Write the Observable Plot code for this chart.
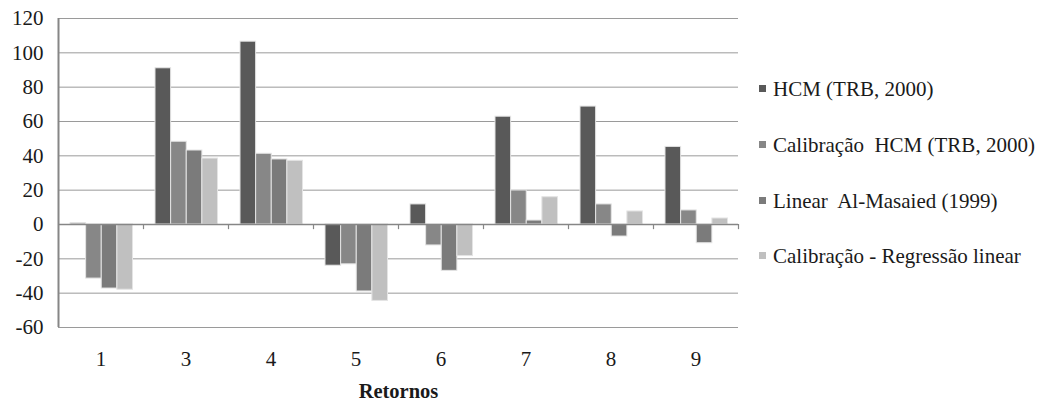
<!DOCTYPE html>
<html>
<head>
<meta charset="utf-8">
<script src="https://cdn.jsdelivr.net/npm/d3@7"></script>
<script src="https://cdn.jsdelivr.net/npm/@observablehq/plot@0.6"></script>
<style>
  body { margin: 0; background: #fff; }
  #wrap { position: relative; width: 1042px; height: 403px; }
  #wrap svg text { font-family: 'Liberation Serif', serif; }
  .item { position: absolute; white-space: pre; font-family: 'Liberation Serif', serif; font-size: 21px; line-height: 1; color: #1a1a1a; }
  .sw { position: absolute; width: 7px; height: 7px; }
</style>
</head>
<body>
<div id="wrap"><div id="legend"></div></div>
<script>
// Returns (categories) and the four series of differences
const retornos = ["1", "3", "4", "5", "6", "7", "8", "9"];
const seriesNames = [
  "HCM (TRB, 2000)",
  "Calibração  HCM (TRB, 2000)",
  "Linear  Al-Masaied (1999)",
  "Calibração - Regressão linear"
];
const hcm       = [0.7, 91.0, 106.5, -24.0, 11.7, 62.8, 68.7, 45.2];
const calHcm    = [-31.5, 48.2, 41.2, -23.2, -12.2, 19.8, 11.7, 8.2];
const linearAM  = [-37.3, 43.1, 37.9, -39.0, -27.0, 2.3, -7.0, -10.9];
const calRegLin = [-38.0, 38.4, 37.1, -44.5, -18.4, 15.9, 7.6, 3.5];
const yTicks = [-60, -40, -20, 0, 20, 40, 60, 80, 100, 120];
const colors = ["#595959", "#878787", "#7b7b7b", "#c0c0c0"];

const seriesValues = [hcm, calHcm, linearAM, calRegLin];
const rows = seriesValues.map((vals, j) =>
  retornos.map((r, i) => ({retorno: r, series: seriesNames[j], value: vals[i]}))
);

const width = 1042, height = 403;
const marginLeft = 58, marginRight = 304, marginTop = 18, marginBottom = 76;
const band = (width - marginLeft - marginRight) / retornos.length;
const groupPad = 12, slot = (band - 2 * groupPad + 1.5) / 4;

const barMarks = rows.map((data, j) =>
  Plot.barY(data, {
    x: "retorno",
    y: "value",
    fill: colors[j],
    stroke: "#e4e4e4",
    strokeWidth: 1,
    insetLeft: groupPad + j * slot,
    insetRight: band - groupPad - (j + 1) * slot
  })
);

const chart = Plot.plot({
  width, height, marginLeft, marginRight, marginTop, marginBottom,
  style: {fontFamily: "'Liberation Serif', serif", fontSize: "21px", color: "#1a1a1a", background: "#fff"},
  x: {type: "band", domain: retornos, padding: 0, round: false},
  y: {domain: [-60, 120]},
  marks: [
    Plot.ruleY(yTicks.filter(d => d !== 0), {stroke: "#9a9a9a", strokeWidth: 1}),
    ...barMarks,
    Plot.ruleY([0], {stroke: "#868686", strokeWidth: 1.6}),
    // category boundary ticks on the zero line
    Plot.ruleX(retornos, {x: d => d, dx: band / 2, y1: 0, y2: -3, stroke: "#868686", strokeWidth: 1.2}),
    // value axis line
    Plot.ruleX(retornos.slice(0, 1), {x: d => d, dx: -band / 2, y1: -60, y2: 120, stroke: "#868686", strokeWidth: 2}),
    Plot.axisY({ticks: yTicks, tickFormat: d => String(d), tickSize: 0, tickPadding: 15, fontSize: 21, label: null}),
    Plot.axisX({tickSize: 0, tickPadding: 24, fontSize: 21, label: null}),
    Plot.axisX({ticks: [], label: "Retornos", labelAnchor: "center", labelOffset: 70, fontWeight: "bold", fontSize: 20.5})
  ]
});

const wrap = document.getElementById("wrap");
wrap.insertBefore(chart, wrap.firstChild);

// legend on the right
const legend = document.getElementById("legend");
const swatchTop = [85, 141, 196.5, 252];
seriesNames.forEach((name, j) => {
  const sw = document.createElement("div");
  sw.className = "sw";
  sw.style.left = "759px";
  sw.style.top = swatchTop[j] + "px";
  sw.style.background = colors[j];
  legend.appendChild(sw);
  const t = document.createElement("div");
  t.className = "item";
  t.style.left = "773px";
  t.style.top = (swatchTop[j] - 6) + "px";
  t.textContent = name;
  legend.appendChild(t);
});
</script>
</body>
</html>
